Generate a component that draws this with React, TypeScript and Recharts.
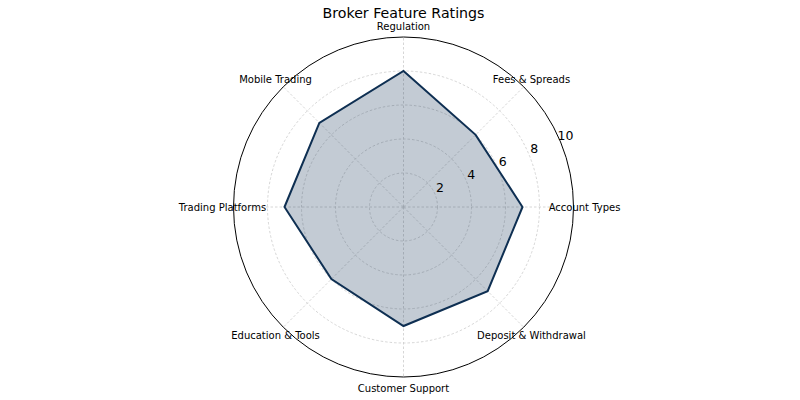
import React from "react";
import { RadarChart, Radar, PolarGrid, PolarAngleAxis, PolarRadiusAxis } from "recharts";

const categories = [
  "Account Types",
  "Fees & Spreads",
  "Regulation",
  "Mobile Trading",
  "Trading Platforms",
  "Education & Tools",
  "Customer Support",
  "Deposit & Withdrawal",
];
const ratings = [7, 6, 8, 7, 7, 6, 7, 7];
const radiusTicks = [2, 4, 6, 8, 10];

// Recharts lays categories clockwise from the top; reorder so the layout
// matches the counter-clockwise order starting at the right.
const clockwiseFromTop = [2, 1, 0, 7, 6, 5, 4, 3];
const data = clockwiseFromTop.map((i) => ({ name: categories[i], rating: ratings[i] }));

const CX = 403.5;
const CY = 207;
const R = 170;
const FONT = "'DejaVu Sans', sans-serif";

const AngleTick = (props: any) => {
  const { payload, x, y } = props;
  const dx = x - CX;
  const dy = y - CY;
  const d = Math.sqrt(dx * dx + dy * dy) || 1;
  const r = 181;
  const tx = CX + (dx / d) * r;
  const ty = CY + (dy / d) * r + 0.5;
  return (
    <text x={tx} y={ty} textAnchor="middle" dominantBaseline="central" fontSize={10} fontFamily={FONT} fill="#000">
      {payload.value}
    </text>
  );
};

const RadiusTick = (props: any) => {
  const { x, y, payload } = props;
  return (
    <text x={x + 5} y={y - 6} textAnchor="middle" dominantBaseline="central" fontSize={12.5} fontFamily={FONT} fill="#000">
      {payload.value}
    </text>
  );
};

export default function App() {
  return (
    <div style={{ position: "absolute", left: 0, top: 0, width: 800, height: 400, background: "#fff" }}>
      <div
        style={{
          position: "absolute",
          left: 0,
          top: 4,
          width: 807,
          textAlign: "center",
          fontFamily: FONT,
          fontSize: 14.2,
          color: "#000",
          lineHeight: "18px",
        }}
      >
        Broker Feature Ratings
      </div>
      <RadarChart
        width={800}
        height={400}
        data={data}
        cx={CX}
        cy={CY}
        outerRadius={R}
        startAngle={90}
        endAngle={-270}
        margin={{ top: 0, right: 0, bottom: 0, left: 0 }}
      >
        <PolarGrid
          gridType="circle"
          polarRadius={[34, 68, 102, 136]}
          stroke="#cccccc"
          strokeDasharray="2.5 2"
          strokeWidth={0.8}
        />
        <PolarGrid gridType="circle" polarRadius={[R]} radialLines={false} stroke="#000" strokeWidth={1} />
        <PolarAngleAxis dataKey="name" tick={<AngleTick />} axisLine={false} tickLine={false} />
        <PolarRadiusAxis
          domain={[0, 10]}
          ticks={radiusTicks as any}
          angle={22.5}
          axisLine={false}
          tickLine={false}
          tick={<RadiusTick />}
        />
        <Radar
          dataKey="rating"
          stroke="#0e2f52"
          strokeWidth={2}
          fill="#0e2f52"
          fillOpacity={0.25}
          dot={false}
          isAnimationActive={false}
        />
      </RadarChart>
    </div>
  );
}
